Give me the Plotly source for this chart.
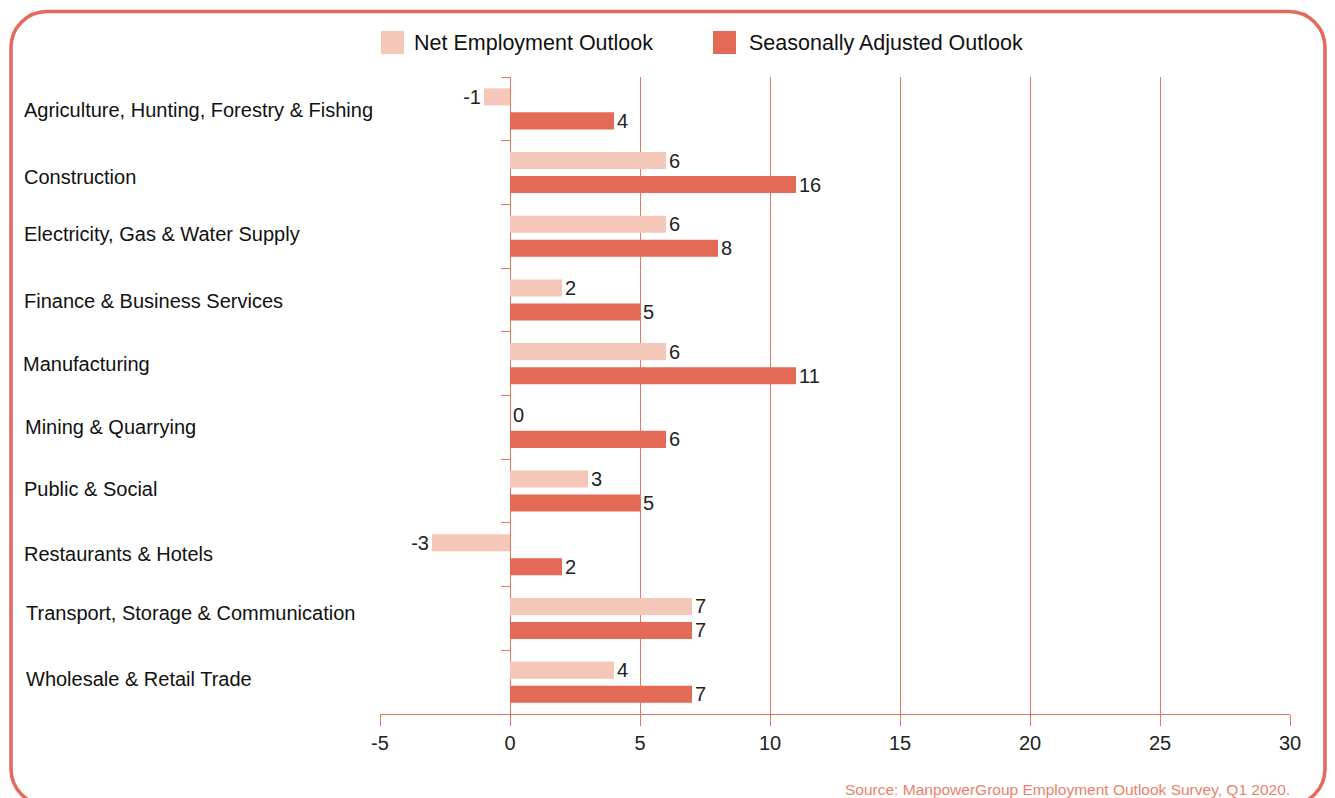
import plotly.graph_objects as go

categories = [
    "Agriculture, Hunting, Forestry & Fishing",
    "Construction",
    "Electricity, Gas & Water Supply",
    "Finance & Business Services",
    "Manufacturing",
    "Mining & Quarrying",
    "Public & Social",
    "Restaurants & Hotels",
    "Transport, Storage & Communication",
    "Wholesale & Retail Trade",
]
net_outlook = [-1, 6, 6, 2, 6, 0, 3, -3, 7, 4]
net_labels = ["-1", "6", "6", "2", "6", "0", "3", "-3", "7", "4"]
seasonal_outlook = [4, 11, 8, 5, 11, 6, 5, 2, 7, 7]
seasonal_labels = ["4", "16", "8", "5", "11", "6", "5", "2", "7", "7"]
x_ticks = [-5, 0, 5, 10, 15, 20, 25, 30]
series_names = ["Net Employment Outlook", "Seasonally Adjusted Outlook"]
source_text = "Source: ManpowerGroup Employment Outlook Survey, Q1 2020."

W, H = 1335, 798
L, R, T, B = 380, 1290, 77, 714
LIGHT = "#f5c7b9"
DARK = "#e26a57"
GRID = "#e9765f"
BORDER = "#e5695a"
FONT = "Liberation Sans, Arial, Helvetica, sans-serif"
# small per-label nudges (px) to mimic the hand-placed category labels
label_dy = [-1, -4, 2, -1, 0, 0, 2, 1, 5, 3]
label_dx = [0, 0, 0, 0, -1, 1, 0, 0, 2, 2]


def px(x):
    return (x - L) / (R - L)


def py(y):
    return (B - y) / (B - T)


fig = go.Figure()
fig.add_trace(go.Bar(
    y=categories, x=net_outlook, orientation="h", name=series_names[0],
    marker=dict(color=LIGHT, line=dict(width=0)),
    text=net_labels, textposition="outside", cliponaxis=False, constraintext="none",
    textfont=dict(size=20, color="#222222", family=FONT),
    showlegend=False,
))
fig.add_trace(go.Bar(
    y=categories, x=seasonal_outlook, orientation="h", name=series_names[1],
    marker=dict(color=DARK, line=dict(width=0)),
    text=seasonal_labels, textposition="outside", cliponaxis=False, constraintext="none",
    textfont=dict(size=20, color="#222222", family=FONT),
    showlegend=False,
))
# invisible helper trace so the zero-line tick axis has categories
fig.add_trace(go.Scatter(
    y=categories, x=[0] * len(categories), yaxis="y2", mode="markers",
    marker=dict(opacity=0), hoverinfo="skip", showlegend=False,
))

yrange = [len(categories) - 0.5, -0.5]

fig.update_layout(
    width=W, height=H,
    margin=dict(l=L, r=W - R, t=T, b=H - B),
    paper_bgcolor="white", plot_bgcolor="white",
    barmode="group", bargap=0.246, bargroupgap=0.29,
    font=dict(family=FONT, size=20, color="#222222"),
    xaxis=dict(
        range=[-5, 30], tickvals=x_ticks, ticktext=[str(v) for v in x_ticks],
        showgrid=True, gridcolor=GRID, gridwidth=1.3,
        showline=True, linecolor=GRID, linewidth=1.3,
        ticks="outside", ticklen=11, tickcolor=GRID, tickwidth=1.3,
        zeroline=False, tickfont=dict(size=20, color="#222222"),
        fixedrange=True,
    ),
    yaxis=dict(
        type="category", categoryorder="array", categoryarray=categories,
        range=yrange, showticklabels=False, showgrid=False,
        showline=False, ticks="", zeroline=False,
    ),
    yaxis2=dict(
        type="category", categoryorder="array", categoryarray=categories,
        range=yrange, overlaying="y", anchor="free", position=px(510), side="left",
        showticklabels=False, showgrid=False, showline=False, zeroline=False,
        ticks="outside", tickson="boundaries", ticklen=9, tickcolor=GRID, tickwidth=1.3,
    ),
    showlegend=False,
)

annotations = []
for cat, dy, dx in zip(categories, label_dy, label_dx):
    annotations.append(dict(
        x=px(22), xref="paper", y=cat, yref="y", text=cat, showarrow=False,
        xanchor="left", yanchor="middle", xshift=dx, yshift=dy,
        font=dict(size=20, color="#111111", family=FONT),
    ))

# legend
legend_items = [(381, 412, LIGHT, series_names[0]), (713, 747, DARK, series_names[1])]
shapes = []
for sx, tx, col, name in legend_items:
    shapes.append(dict(
        type="rect", xref="paper", yref="paper",
        x0=px(sx), x1=px(sx + 23), y0=py(54), y1=py(31),
        fillcolor=col, line=dict(width=0),
    ))
    annotations.append(dict(
        x=px(tx), xref="paper", y=py(43), yref="paper", text=name, showarrow=False,
        xanchor="left", yanchor="middle", font=dict(size=21.5, color="#111111", family=FONT),
    ))

annotations.append(dict(
    x=px(1292), xref="paper", y=py(789), yref="paper", text=source_text, showarrow=False,
    xanchor="right", yanchor="middle", font=dict(size=15.5, color="#ec7f6c", family=FONT),
))

# rounded border
x0, y0, x1, y1, r = 11, 11.5, 1325, 805, 36
k = 0.5523 * r


def P(x, y):
    return f"{px(x):.5f},{py(y):.5f}"


path = (
    f"M {P(x0 + r, y0)} L {P(x1 - r, y0)} "
    f"C {P(x1 - r + k, y0)} {P(x1, y0 + r - k)} {P(x1, y0 + r)} "
    f"L {P(x1, y1 - r)} "
    f"C {P(x1, y1 - r + k)} {P(x1 - r + k, y1)} {P(x1 - r, y1)} "
    f"L {P(x0 + r, y1)} "
    f"C {P(x0 + r - k, y1)} {P(x0, y1 - r + k)} {P(x0, y1 - r)} "
    f"L {P(x0, y0 + r)} "
    f"C {P(x0, y0 + r - k)} {P(x0 + r - k, y0)} {P(x0 + r, y0)} Z"
)
shapes.append(dict(type="path", xref="paper", yref="paper", path=path,
                   line=dict(color=BORDER, width=3.5), fillcolor="rgba(0,0,0,0)"))

fig.update_layout(annotations=annotations, shapes=shapes)
fig.write_html(
    "out.html",
    config={"displayModeBar": False},
    post_script="document.body.style.margin='0';document.body.style.overflow='hidden';",
)
